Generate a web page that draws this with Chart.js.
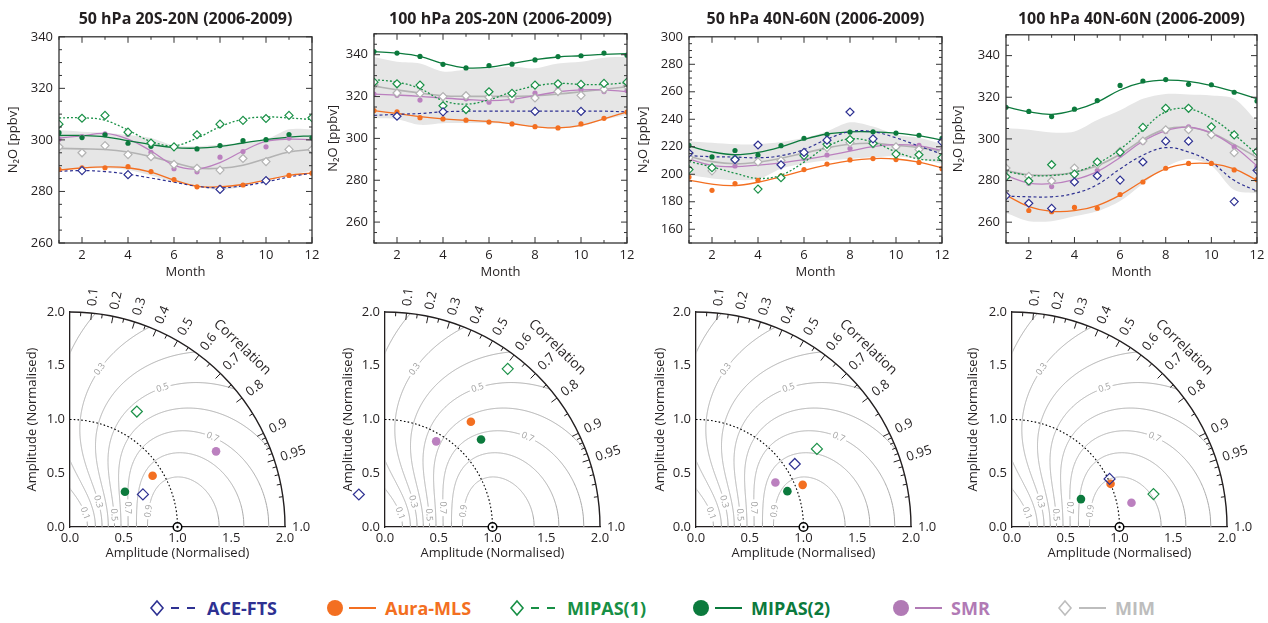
<!DOCTYPE html>
<html>
<head>
<meta charset="utf-8">
<script src="https://cdn.jsdelivr.net/npm/chart.js@4.4.1/dist/chart.umd.min.js"></script>
<style>
html,body{margin:0;padding:0;background:#fff;}
body{width:1268px;height:623px;position:relative;overflow:hidden;font-family:"Open Sans","Noto Sans",sans-serif;color:#231f20;}
canvas{position:absolute;}
.ptitle{position:absolute;top:8px;font-weight:700;font-size:16px;white-space:nowrap;transform:translateX(-50%);line-height:20px;}
.leg{position:absolute;top:597px;height:22px;display:flex;align-items:center;font-weight:700;font-size:18px;white-space:nowrap;}
.leg svg{flex:none;display:block;}
</style>
</head>
<body>
<script>
// ---------------- DATA ----------------
const months = [1,2,3,4,5,6,7,8,9,10,11,12];
const monthTicks = [2,4,6,8,10,12];

// Panel 1: 50 hPa 20S-20N
const p1_yTicks = [260,280,300,320,340];
const p1_ace     = [null,288.1,null,286.5,null,null,null,280.8,null,284.2,null,null];
const p1_aceFit  = [287.8,288.1,287.7,286.7,285.2,283.6,282.0,281.4,282.2,283.7,285.6,287.1];
const p1_mls     = [288.6,289.2,289.2,289.6,287.7,284.6,281.8,281.5,282.5,284.4,286.2,287.1];
const p1_mlsFit  = [288.3,289.1,289.5,289.2,287.5,284.4,282.0,281.8,282.7,284.4,286.2,287.2];
const p1_mip1    = [306.1,308.4,309.5,303.0,298.8,297.3,302.0,306.1,307.6,308.3,309.5,308.6];
const p1_mip1Fit = [308.5,308.6,307.6,303.8,299.4,297.8,300.7,305.1,308.0,308.9,308.5,307.9];
const p1_mip2    = [302.8,300.9,302.0,298.7,297.5,297.3,296.5,297.8,299.7,300.1,302.1,300.8];
const p1_mip2Fit = [301.7,301.7,301.2,299.7,298.2,297.0,296.8,297.5,298.8,300.1,301.1,301.6];
const p1_smr     = [300.3,301.3,302.3,302.1,295.2,288.8,287.6,293.3,295.5,297.3,300.7,300.8];
const p1_smrFit  = [300.7,301.6,302.5,300.3,295.7,290.2,288.7,291.2,295.7,299.4,300.3,300.0];
const p1_mim     = [297.3,295.0,297.8,294.3,293.5,290.5,289.0,288.3,292.8,291.6,296.3,296.2];
const p1_mimFit  = [296.7,296.5,296.3,295.3,293.5,291.2,289.1,289.0,290.2,292.8,295.3,296.3];
const p1_bandHi  = [303.8,303.2,302.8,301.9,300.7,297.8,297.5,298.2,298.8,300.1,304.1,304.1];
const p1_bandLo  = [288.7,288.7,289.0,288.3,286.2,283.7,281.8,280.6,281.8,284.3,286.2,288.1];

// Panel 2: 100 hPa 20S-20N
const p2_yTicks = [260,280,300,320,340];
const p2_ace     = [null,310.6,null,312.7,null,null,null,312.9,null,312.9,null,null];
const p2_aceFit  = [311.0,311.5,311.9,312.7,313.0,313.0,313.0,313.0,313.0,313.0,313.0,312.7];
const p2_mls     = [313.3,312.7,309.9,309.3,308.7,307.8,306.9,305.6,305.0,306.9,309.6,312.6];
const p2_mlsFit  = [313.3,311.9,310.4,309.3,308.7,308.1,307.0,305.6,305.0,306.2,309.3,312.7];
const p2_mip1    = [326.9,326.1,325.5,315.6,313.8,322.3,321.5,325.5,326.1,325.8,326.3,326.9];
const p2_mip1Fit = [328.1,326.9,323.8,318.1,316.4,318.4,322.3,325.0,326.3,325.8,325.8,326.6];
const p2_mip2    = [341.5,340.8,339.2,335.4,333.7,334.8,335.5,337.5,339.1,339.5,340.8,339.8];
const p2_mip2Fit = [341.5,340.8,339.2,335.8,333.7,334.0,335.8,337.7,338.9,339.5,340.2,340.5];
const p2_smr     = [321.2,320.6,318.3,320.3,318.9,317.3,318.0,321.7,323.5,323.4,322.4,322.9];
const p2_smrFit  = [321.2,320.7,320.1,319.3,318.6,318.1,318.7,320.4,322.3,323.2,323.2,322.3];
const p2_mim     = [325.5,321.7,321.5,320.0,320.4,319.7,319.5,319.3,322.4,320.6,323.5,325.0];
const p2_mimFit  = [325.0,323.2,321.7,320.4,320.1,320.1,320.1,320.4,321.2,322.3,323.5,324.7];
const p2_bandHi  = [338.9,336.6,335.8,332.0,332.8,333.5,334.3,333.5,335.8,336.6,338.6,338.9];
const p2_bandLo  = [309.6,309.2,306.5,307.3,307.3,307.3,306.9,305.3,304.7,305.8,308.9,311.2];

// Panel 3: 50 hPa 40N-60N
const p3_yTicks = [160,180,200,220,240,260,280,300];
const p3_ace     = [215.4,null,210.7,221.3,206.9,215.9,224.8,245.3,225.8,null,null,223.6];
const p3_aceFit  = [213.5,212.8,212.5,212.0,213.5,218.0,225.5,231.0,231.0,226.5,220.5,214.7];
const p3_mls     = [198.0,188.3,193.2,195.6,198.9,203.4,207.4,210.4,211.4,210.7,208.6,204.1];
const p3_mlsFit  = [195.8,192.8,191.8,194.2,198.2,202.9,206.9,210.0,211.4,211.1,208.8,204.8];
const p3_mip1    = [203.4,204.8,211.1,189.2,197.5,213.5,221.8,225.3,222.5,214.7,214.2,212.1];
const p3_mip1Fit = [209.3,205.3,200.8,197.0,199.4,208.8,220.1,225.8,223.4,216.3,211.1,210.2];
const p3_mip2    = [221.0,212.6,217.3,214.0,220.8,226.2,229.1,230.7,230.9,230.0,228.4,226.2];
const p3_mip2Fit = [220.6,216.3,214.2,215.9,219.9,225.3,229.3,230.9,230.9,230.0,228.1,224.8];
const p3_smr     = [212.3,203.6,206.0,208.3,208.3,211.6,214.0,218.7,221.0,219.6,221.0,217.5];
const p3_smrFit  = [211.1,206.4,205.5,206.7,208.3,210.7,213.5,216.8,220.1,221.5,220.6,217.3];
const p3_mim     = [212.0,202.5,210.0,209.0,210.0,214.0,219.4,223.0,222.0,220.0,218.0,216.0];
const p3_mimFit  = [213.0,209.2,207.6,208.8,211.6,215.4,219.2,221.8,222.5,221.0,219.4,216.8];
const p3_bandHi  = [224.1,222.9,221.8,221.8,223.4,226.5,231.2,237.8,234.7,228.8,226.5,221.8];
const p3_bandLo  = [199.4,197.0,195.8,196.5,204.1,207.8,210.0,211.1,212.3,213.0,211.1,207.6];

// Panel 4: 100 hPa 40N-60N
const p4_yTicks = [260,280,300,320,340];
const p4_ace     = [272.7,269.1,266.6,279.3,282.3,280.2,288.9,298.9,298.9,null,269.9,284.9];
const p4_aceFit  = [272.5,272.2,272.2,273.8,278.0,285.6,292.2,295.8,293.7,288.7,280.1,274.9];
const p4_mls     = [273.3,265.6,265.0,267.1,266.7,273.3,279.3,285.9,288.2,288.2,285.1,280.4];
const p4_mlsFit  = [273.0,267.5,265.2,265.5,268.0,273.0,279.8,285.6,288.1,288.1,285.6,280.1];
const p4_mip1    = [281.8,279.8,287.6,283.1,288.9,293.6,305.5,314.7,314.7,305.8,301.9,293.9];
const p4_mip1Fit = [284.3,282.6,282.4,284.0,288.2,295.0,304.4,313.0,314.4,309.9,302.0,292.6];
const p4_mip2    = [315.2,313.2,310.7,314.3,318.4,325.7,327.8,328.5,326.2,326.0,322.4,318.2];
const p4_mip2Fit = [315.4,313.0,311.8,313.8,317.7,323.5,327.1,328.2,327.6,325.6,322.7,319.3];
const p4_smr     = [282.4,278.7,277.1,282.4,284.8,292.3,298.4,303.6,305.8,302.5,296.2,286.8];
const p4_smrFit  = [282.4,278.8,278.5,280.4,284.3,291.1,298.9,303.9,305.6,302.8,296.2,287.1];
const p4_mim     = [286.0,282.0,279.8,286.0,287.8,294.0,299.0,304.4,304.4,302.0,293.4,292.6];
const p4_mimFit  = [284.8,282.7,282.7,284.0,287.1,292.6,299.7,304.7,305.6,302.8,297.3,291.1];
const p4_bandHi  = [305.2,304.4,303.1,303.6,309.1,313.8,319.3,321.6,321.3,320.9,319.3,308.3];
const p4_bandLo  = [264.4,260.5,260.5,262.8,265.2,270.2,278.5,286.4,290.3,287.1,275.4,273.8];

// Taylor diagrams: order ACE-FTS, Aura-MLS, MIPAS(1), MIPAS(2), SMR
const taylorSeries = ['ACE-FTS','Aura-MLS','MIPAS(1)','MIPAS(2)','SMR'];
const t1_amp  = [0.743,0.904,1.241,0.607,1.530];
const t1_corr = [0.913,0.850,0.501,0.842,0.888];
const t2_amp  = [0.388,1.264,1.862,1.209,0.928];
const t2_corr = [-0.627,0.632,0.613,0.739,0.513];
const t3_amp  = [1.090,1.067,1.339,0.913,0.847];
const t3_corr = [0.843,0.930,0.840,0.931,0.872];
const t4_amp  = [1.012,1.001,1.351,0.692,1.134];
const t4_corr = [0.897,0.916,0.974,0.927,0.980];
const ampTicks = [0,0.5,1.0,1.5,2.0];
const skillLevels = [0.1,0.2,0.3,0.4,0.5,0.6,0.7,0.8,0.9];
const corrLabelVals = [0.1,0.2,0.3,0.4,0.5,0.6,0.7,0.8,0.9,0.95,1.0];
const corrLabelText = ['0.1','0.2','0.3','0.4','0.5','0.6','0.7','0.8','0.9','0.95','1.0'];
const corrMajor = [0.1,0.2,0.3,0.4,0.5,0.6,0.7,0.8,0.9,0.95];
const corrMinor = [0.05,0.15,0.25,0.35,0.45,0.55,0.65,0.75,0.85,0.91,0.92,0.93,0.94,0.96,0.97,0.98,0.99];
const skillLabelLevel = [0.1,0.3,0.5,0.7,0.9,0.3,0.5,0.7];
const skillLabelCorr  = [0.74,0.745,0.964,0.949,0.98,0.185,0.554,0.846];
const skillLabelOuter = [false,false,false,false,false,true,true,true];

// ---------------- STYLE ----------------
const INK = '#231f20';
const COL = {ace:'#2e3192', mls:'#f36f21', mip1:'#1b9148', mip2:'#0c7a3d', smr:'#bb80bf', mim:'#b3b3b3', band:'#e6e6e6'};
Chart.defaults.font.family = '"Open Sans", "Noto Sans", sans-serif';
Chart.defaults.color = INK;

function pts(arr){ return months.map((m,i)=>({x:m, y:arr[i]})); }
function markerDs(arr,color,diamond){
  return {data:pts(arr), showLine:false, pointStyle:diamond?'rectRot':'circle',
    pointRadius:diamond?4:2.6, pointBorderWidth:diamond?1.2:0, pointBorderColor:color,
    pointBackgroundColor:diamond?'#ffffff':color, borderColor:color, backgroundColor:color, order:0};
}
function fitDs(arr,color,dash,w){
  return {data:pts(arr), borderColor:color, borderWidth:w||1.3, borderDash:dash||[], pointRadius:0,
    tension:0.4, fill:false, order:1};
}

const framePlugin = {
  id:'frame',
  afterDatasetsDraw(chart){
    const {ctx, chartArea:a, scales:{x,y}} = chart;
    ctx.save();
    ctx.strokeStyle = '#333'; ctx.lineWidth = 1.3;
    ctx.strokeRect(a.left, a.top, a.right-a.left, a.bottom-a.top);
    ctx.lineWidth = 1;
    ctx.beginPath();
    months.forEach(m=>{
      const px = x.getPixelForValue(m); const len = m%2===0 ? 6 : 3;
      ctx.moveTo(px,a.bottom); ctx.lineTo(px,a.bottom-len);
      ctx.moveTo(px,a.top); ctx.lineTo(px,a.top+len);
    });
    for(let v=Math.ceil(y.min/5)*5; v<=y.max; v+=5){
      const py = y.getPixelForValue(v); const len = v%20===0 ? 6 : 3;
      ctx.moveTo(a.left,py); ctx.lineTo(a.left+len,py);
      ctx.moveTo(a.right,py); ctx.lineTo(a.right-len,py);
    }
    ctx.stroke();
    ctx.restore();
  }
};

function addTitle(text, cx){
  const d = document.createElement('div');
  d.className = 'ptitle'; d.textContent = text; d.style.left = cx+'px';
  document.body.appendChild(d);
}

function makeTop(c){
  const padT=8, padR=14, xH=40;
  const w = c.yW + (c.R-c.L) + padR, h = padT + (c.B-c.T) + xH;
  const cv = document.createElement('canvas');
  cv.width=w; cv.height=h; cv.style.width=w+'px'; cv.style.height=h+'px';
  cv.style.left=(c.L-c.yW)+'px'; cv.style.top=(c.T-padT)+'px';
  document.body.appendChild(cv);
  addTitle(c.title, (c.L+c.R)/2);
  const tickFont = {size:13};
  new Chart(cv, {
    type:'line',
    data:{datasets:[
      markerDs(c.ace, COL.ace, true),
      markerDs(c.mip1, COL.mip1, true),
      markerDs(c.mim, COL.mim, true),
      markerDs(c.mls, COL.mls, false),
      markerDs(c.mip2, COL.mip2, false),
      markerDs(c.smr, COL.smr, false),
      fitDs(c.aceFit, COL.ace, [3,2.5], 1.2),
      fitDs(c.mip1Fit, COL.mip1, [2,2], 1.3),
      fitDs(c.mlsFit, COL.mls),
      fitDs(c.mip2Fit, COL.mip2),
      fitDs(c.smrFit, COL.smr),
      fitDs(c.mimFit, COL.mim, [], 1.6),
      {data:pts(c.bandHi), borderWidth:0, borderColor:'rgba(0,0,0,0)', pointRadius:0, fill:false, tension:0.3, order:5},
      {data:pts(c.bandLo), borderWidth:0, borderColor:'rgba(0,0,0,0)', pointRadius:0, fill:'-1', backgroundColor:COL.band, tension:0.3, order:5}
    ]},
    options:{
      responsive:false, devicePixelRatio:1, animation:false,
      layout:{padding:{left:0, top:padT, right:padR, bottom:0}},
      plugins:{legend:{display:false}, tooltip:{enabled:false}, title:{display:false}},
      scales:{
        x:{type:'linear', min:1, max:12,
          grid:{display:false, drawTicks:false}, border:{display:false},
          ticks:{font:tickFont, color:INK, padding:4, maxRotation:0, autoSkip:false},
          afterBuildTicks:s=>{ s.ticks = monthTicks.map(v=>({value:v})); },
          afterFit:s=>{ s.height = xH; },
          title:{display:true, text:'Month', font:{size:13}, color:INK, padding:{top:0,bottom:3}}},
        y:{type:'linear', min:c.yMin, max:c.yMax,
          grid:{display:false, drawTicks:false}, border:{display:false},
          ticks:{font:tickFont, color:INK, padding:6},
          afterBuildTicks:s=>{ s.ticks = c.yTicks.map(v=>({value:v})); },
          afterFit:s=>{ s.width = c.yW; },
          title:{display:true, text:'N₂O [ppbv]', font:{size:13}, color:INK, padding:{top:0,bottom:0}}}
      }
    },
    plugins:[framePlugin]
  });
}

const taylorPlugin = {
  id:'taylor',
  beforeDatasetsDraw(chart){
    const {ctx, scales:{x,y}} = chart;
    const ox = x.getPixelForValue(0), oy = y.getPixelForValue(0);
    const u = ((x.getPixelForValue(1)-ox) + (oy-y.getPixelForValue(1)))/2;
    const P = (a,b)=>[ox+a*u, oy-b*u];
    // skill-score contours
    ctx.save();
    ctx.beginPath(); ctx.moveTo(ox,oy); ctx.lineTo(ox+2*u,oy); ctx.arc(ox,oy,2*u,0,-Math.PI/2,true); ctx.closePath(); ctx.clip();
    ctx.strokeStyle = '#a9a9a9'; ctx.lineWidth = 1;
    skillLevels.forEach(s=>{
      const sq = Math.sqrt(s), phiMax = Math.acosh(1/sq);
      const N = 900;
      ctx.beginPath();
      for(let i=0;i<=N;i++){
        const phi = -phiMax + 2*phiMax*i/N;
        const sig = Math.exp(phi);
        let R = 2*Math.cosh(phi)*sq - 1; R = Math.max(-1, Math.min(1, R));
        const [px,py] = P(sig*R, sig*Math.sqrt(Math.max(0,1-R*R)));
        if(i===0) ctx.moveTo(px,py); else ctx.lineTo(px,py);
      }
      ctx.stroke();
    });
    ctx.restore();
    // contour labels
    ctx.save();
    ctx.font = '9px "Open Sans", sans-serif'; ctx.textAlign='center'; ctx.textBaseline='middle';
    skillLabelLevel.forEach((s,i)=>{
      const sq = Math.sqrt(s), outer = skillLabelOuter[i];
      const at = R=>{ const k=(1+R)/sq; const phi=Math.acosh(Math.max(1,k/2))*(outer?1:-1); const sig=Math.exp(phi);
        return P(sig*R, sig*Math.sqrt(Math.max(0,1-R*R))); };
      const r = skillLabelCorr[i];
      const [px,py] = at(r);
      const [ax,ay] = at(r-0.004), [bx,by] = at(Math.min(1,r+0.004));
      let ang = Math.atan2(by-ay, bx-ax);
      if(ang > Math.PI/2) ang -= Math.PI; if(ang < -Math.PI/2) ang += Math.PI;
      const txt = s.toFixed(1);
      const tw = ctx.measureText(txt).width;
      ctx.save(); ctx.translate(px,py); ctx.rotate(ang);
      ctx.fillStyle = '#ffffff'; ctx.fillRect(-tw/2-2,-5,tw+4,10);
      ctx.fillStyle = '#a0a0a0'; ctx.fillText(txt,0,0);
      ctx.restore();
    });
    ctx.restore();
    // reference arc (amplitude = 1)
    ctx.save();
    ctx.strokeStyle = '#000'; ctx.lineWidth = 1.1; ctx.setLineDash([1.6,2.2]);
    ctx.beginPath(); ctx.arc(ox,oy,u,-Math.PI/2,0); ctx.stroke();
    ctx.setLineDash([]);
    // outer arc with correlation ticks
    ctx.strokeStyle = INK; ctx.lineWidth = 1.4;
    ctx.beginPath(); ctx.arc(ox,oy,2*u,-Math.PI/2,0); ctx.stroke();
    ctx.lineWidth = 1;
    const tick = (R,len)=>{ const th=Math.acos(R), c=Math.cos(th), s=Math.sin(th);
      ctx.moveTo(ox+2*u*c, oy-2*u*s); ctx.lineTo(ox+(2*u-len)*c, oy-(2*u-len)*s); };
    ctx.beginPath(); corrMajor.forEach(R=>tick(R,7)); corrMinor.forEach(R=>tick(R,4)); ctx.stroke();
    ctx.fillStyle = INK; ctx.font = '13px "Open Sans", sans-serif'; ctx.textAlign='left'; ctx.textBaseline='middle';
    corrLabelVals.forEach((R,i)=>{
      const th = Math.acos(R);
      ctx.save(); ctx.translate(ox+(2*u+7)*Math.cos(th), oy-(2*u+7)*Math.sin(th)); ctx.rotate(-th);
      ctx.fillText(corrLabelText[i],0,0); ctx.restore();
    });
    const thc = 46.2*Math.PI/180;
    ctx.save(); ctx.translate(ox+(2*u+34)*Math.cos(thc), oy-(2*u+34)*Math.sin(thc)); ctx.rotate(Math.PI/2-thc);
    ctx.textAlign='center'; ctx.font='14px "Open Sans", sans-serif'; ctx.fillText('Correlation',0,0); ctx.restore();
    ctx.restore();
  },
  afterDatasetsDraw(chart){
    const {ctx, chartArea:a, scales:{x,y}} = chart;
    // Chart.js skips point elements lying outside the chart area; draw those library elements here
    chart.data.datasets.forEach((ds,di)=>{
      const meta = chart.getDatasetMeta(di);
      meta.data.forEach(el=>{
        const o = el.options;
        const r = Math.max(o.radius, o.hoverRadius||0);
        const m = r + (r ? (o.borderWidth||0) : 0);
        const inside = el.x > a.left - m && el.x < a.right + m && el.y > a.top - m && el.y < a.bottom + m;
        if(!inside) el.draw(ctx, {left:-1e5, top:-1e5, right:1e5, bottom:1e5});
      });
    });
    const px = x.getPixelForValue(1), py = y.getPixelForValue(0);
    ctx.save();
    ctx.fillStyle='#fff'; ctx.strokeStyle='#000'; ctx.lineWidth=1.5;
    ctx.beginPath(); ctx.arc(px,py,4.3,0,Math.PI*2); ctx.fill(); ctx.stroke();
    ctx.fillStyle='#000'; ctx.beginPath(); ctx.arc(px,py,1.2,0,Math.PI*2); ctx.fill();
    ctx.restore();
  }
};

const taylorStyle = [
  {color:COL.ace, diamond:true},
  {color:COL.mls, diamond:false},
  {color:COL.mip1, diamond:true},
  {color:COL.mip2, diamond:false},
  {color:COL.smr, diamond:false}
];

function makeTaylor(c){
  const padT=40, padR=45, xH=37, S=215;
  const w = c.yW + S + padR, h = padT + S + xH;
  const cv = document.createElement('canvas');
  cv.width=w; cv.height=h; cv.style.width=w+'px'; cv.style.height=h+'px';
  cv.style.left=(c.L-c.yW)+'px'; cv.style.top=(c.T-padT)+'px';
  document.body.appendChild(cv);
  const datasets = taylorSeries.map((name,i)=>{
    const st = taylorStyle[i], a = c.amp[i], r = c.corr[i];
    return {label:name, data:[{x:a*r, y:a*Math.sqrt(1-r*r)}], clip:false,
      pointStyle:st.diamond?'rectRot':'circle', pointRadius:st.diamond?5.5:4.3, pointHoverRadius:st.diamond?5.5:4.3,
      pointBorderWidth:st.diamond?1.2:0, pointBorderColor:st.color,
      pointBackgroundColor:st.diamond?'rgba(255,255,255,0)':st.color, backgroundColor:st.color, borderColor:st.color};
  });
  const tickFont = {size:13};
  new Chart(cv, {
    type:'scatter',
    data:{datasets},
    options:{
      responsive:false, devicePixelRatio:1, animation:false,
      layout:{padding:{left:0, top:padT, right:padR, bottom:0}},
      plugins:{legend:{display:false}, tooltip:{enabled:false}},
      scales:{
        x:{type:'linear', min:0, max:2,
          grid:{display:false, drawTicks:false}, border:{display:true, color:INK, width:1.3},
          ticks:{font:tickFont, color:INK, padding:3, maxRotation:0, callback:v=>Number(v).toFixed(1)},
          afterBuildTicks:s=>{ s.ticks = ampTicks.map(v=>({value:v})); },
          afterFit:s=>{ s.height = xH; },
          title:{display:true, text:'Amplitude (Normalised)', font:{size:13}, color:INK, padding:{top:0,bottom:3}}},
        y:{type:'linear', min:0, max:2,
          grid:{display:false, drawTicks:false}, border:{display:true, color:INK, width:1.3},
          ticks:{font:tickFont, color:INK, padding:5, callback:v=>Number(v).toFixed(1)},
          afterBuildTicks:s=>{ s.ticks = ampTicks.map(v=>({value:v})); },
          afterFit:s=>{ s.width = c.yW; },
          title:{display:true, text:'Amplitude (Normalised)', font:{size:13}, color:INK, padding:{top:0,bottom:0}}}
      }
    },
    plugins:[taylorPlugin]
  });
}

makeTop({L:59, T:31, R:312, B:243, yW:54, yMin:260, yMax:340, yTicks:p1_yTicks, title:'50 hPa 20S-20N (2006-2009)',
  ace:p1_ace, aceFit:p1_aceFit, mls:p1_mls, mlsFit:p1_mlsFit, mip1:p1_mip1, mip1Fit:p1_mip1Fit,
  mip2:p1_mip2, mip2Fit:p1_mip2Fit, smr:p1_smr, smrFit:p1_smrFit, mim:p1_mim, mimFit:p1_mimFit, bandHi:p1_bandHi, bandLo:p1_bandLo});
makeTop({L:374, T:28, R:627, B:243, yW:49, yMin:250, yMax:350, yTicks:p2_yTicks, title:'100 hPa 20S-20N (2006-2009)',
  ace:p2_ace, aceFit:p2_aceFit, mls:p2_mls, mlsFit:p2_mlsFit, mip1:p2_mip1, mip1Fit:p2_mip1Fit,
  mip2:p2_mip2, mip2Fit:p2_mip2Fit, smr:p2_smr, smrFit:p2_smrFit, mim:p2_mim, mimFit:p2_mimFit, bandHi:p2_bandHi, bandLo:p2_bandLo});
makeTop({L:689, T:31, R:942, B:243, yW:54, yMin:150, yMax:300, yTicks:p3_yTicks, title:'50 hPa 40N-60N (2006-2009)',
  ace:p3_ace, aceFit:p3_aceFit, mls:p3_mls, mlsFit:p3_mlsFit, mip1:p3_mip1, mip1Fit:p3_mip1Fit,
  mip2:p3_mip2, mip2Fit:p3_mip2Fit, smr:p3_smr, smrFit:p3_smrFit, mim:p3_mim, mimFit:p3_mimFit, bandHi:p3_bandHi, bandLo:p3_bandLo});
makeTop({L:1006, T:29, R:1257, B:243, yW:56, yMin:250, yMax:350, yTicks:p4_yTicks, title:'100 hPa 40N-60N (2006-2009)',
  ace:p4_ace, aceFit:p4_aceFit, mls:p4_mls, mlsFit:p4_mlsFit, mip1:p4_mip1, mip1Fit:p4_mip1Fit,
  mip2:p4_mip2, mip2Fit:p4_mip2Fit, smr:p4_smr, smrFit:p4_smrFit, mim:p4_mim, mimFit:p4_mimFit, bandHi:p4_bandHi, bandLo:p4_bandLo});

makeTaylor({L:70, T:312, yW:46, amp:t1_amp, corr:t1_corr});
makeTaylor({L:385, T:312, yW:45, amp:t2_amp, corr:t2_corr});
makeTaylor({L:696, T:312, yW:44, amp:t3_amp, corr:t3_corr});
makeTaylor({L:1012, T:312, yW:47, amp:t4_amp, corr:t4_corr});

// ---------------- LEGEND ----------------
const legendNames  = ['ACE-FTS','Aura-MLS','MIPAS(1)','MIPAS(2)','SMR','MIM'];
const legendColors = [COL.ace, COL.mls, '#178f45', '#0b7a3d', '#b17ab5', '#bdbdbd'];
const legendMarkerX = [157, 335, 517, 701, 901, 1065];
const legendDiamond = [true,false,true,false,false,true];
const legendDashed  = [true,false,true,false,false,false];
legendNames.forEach((name,i)=>{
  const d = document.createElement('div');
  d.className='leg'; d.style.left=(legendMarkerX[i]-10)+'px'; d.style.color=legendColors[i];
  const col = legendColors[i];
  const mk = legendDiamond[i]
    ? `<path d="M10 4 L16 11 L10 18 L4 11 Z" fill="none" stroke="${col}" stroke-width="1.6"/>`
    : `<circle cx="10" cy="11" r="8" fill="${col}"/>`;
  const ln = `<line x1="24" y1="11" x2="51" y2="11" stroke="${col}" stroke-width="2" ${legendDashed[i]?'stroke-dasharray="8 8"':''}/>`;
  d.innerHTML = `<svg width="60" height="22" viewBox="0 0 60 22">${mk}${ln}</svg><span>${name}</span>`;
  document.body.appendChild(d);
});
</script>
</body>
</html>
